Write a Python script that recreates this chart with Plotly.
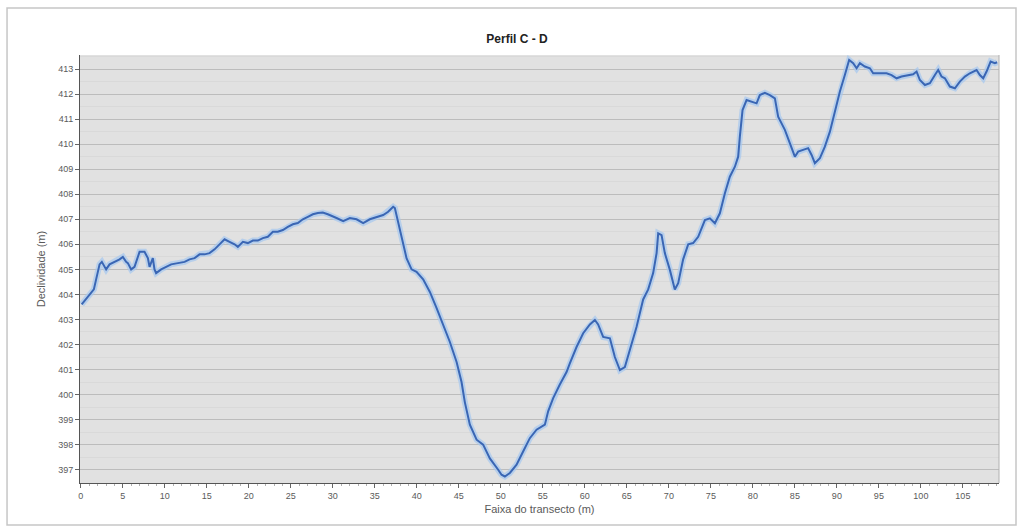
import plotly.graph_objects as go

# Transect profile C - D: distance along the transect (m) and elevation (m)
distancia = [
    0.1, 0.24, 0.63, 1.23, 1.55, 1.82, 2.23, 2.5, 3.01, 3.42, 4.01, 4.61, 5.0, 5.39, 5.6,
    5.99, 6.39, 6.79, 6.99, 7.58, 7.98, 8.18, 8.37, 8.57, 8.77, 8.96, 9.56, 10.15, 10.75,
    11.55, 12.35, 12.94, 13.54, 14.13, 14.73, 15.32, 15.92, 16.51, 17.11, 17.7, 18.3,
    18.69, 19.29, 19.88, 20.48, 21.07, 21.67, 22.26, 22.86, 23.45, 24.05, 24.64, 25.24,
    25.83, 26.43, 27.02, 27.62, 28.21, 28.81, 29.4, 30.0, 30.44, 31.23, 32.02, 32.82,
    33.61, 34.4, 35.2, 35.99, 36.58, 37.18, 37.38, 37.77, 38.18, 38.77, 39.37, 39.96,
    40.75, 41.55, 42.35, 43.13, 43.93, 44.73, 45.32, 45.71, 46.31, 47.11, 47.89, 48.69,
    49.29, 49.68, 50.08, 50.48, 51.07, 51.87, 52.65, 53.45, 54.25, 55.24, 55.63, 56.23,
    57.02, 57.82, 58.21, 59.01, 59.8, 60.6, 61.19, 61.58, 62.18, 62.98, 63.57, 64.17,
    64.76, 65.36, 66.15, 66.94, 67.54, 68.13, 68.54, 68.73, 69.13, 69.52, 70.12, 70.71,
    71.11, 71.7, 72.3, 72.89, 73.49, 74.29, 74.88, 75.48, 76.07, 76.67, 77.26, 77.86,
    78.25, 78.45, 78.77, 79.25, 79.85, 80.44, 80.83, 81.43, 82.02, 82.62, 83.01, 83.81,
    84.4, 85.0, 85.39, 85.99, 86.58, 86.99, 87.38, 87.98, 88.57, 89.17, 89.76, 90.36,
    90.95, 91.46, 91.94, 92.35, 92.74, 93.33, 93.93, 94.32, 95.12, 95.92, 96.51, 97.11,
    97.7, 98.49, 99.08, 99.49, 99.88, 100.48, 101.07, 101.67, 102.06, 102.46, 102.86,
    103.45, 104.05, 104.64, 105.24, 105.83, 106.63, 107.02, 107.42, 107.82, 108.3,
    108.81, 109.08,
]

declividade = [
    403.6, 403.66, 403.8, 404.05, 404.2, 404.6, 405.2, 405.3, 405.0, 405.2, 405.3, 405.4,
    405.5, 405.3, 405.25, 405.0, 405.1, 405.5, 405.7, 405.7, 405.45, 405.1, 405.3, 405.45,
    405.0, 404.85, 405.0, 405.1, 405.2, 405.25, 405.3, 405.4, 405.45, 405.6, 405.6,
    405.65, 405.8, 406.0, 406.2, 406.1, 406.0, 405.9, 406.1, 406.05, 406.15, 406.15,
    406.25, 406.3, 406.5, 406.5, 406.57, 406.7, 406.8, 406.85, 407.0, 407.1, 407.2,
    407.25, 407.27, 407.2, 407.1, 407.05, 406.93, 407.05, 407.0, 406.85, 407.0, 407.1,
    407.17, 407.3, 407.5, 407.45, 406.9, 406.25, 405.45, 405.0, 404.9, 404.6, 404.1,
    403.45, 402.8, 402.1, 401.3, 400.5, 399.7, 398.8, 398.2, 398.0, 397.45, 397.2, 397.0,
    396.8, 396.73, 396.87, 397.2, 397.73, 398.26, 398.6, 398.8, 399.33, 399.86, 400.4,
    400.9, 401.25, 401.9, 402.45, 402.8, 402.98, 402.8, 402.3, 402.25, 401.5, 400.98,
    401.1, 401.8, 402.7, 403.8, 404.2, 404.85, 405.65, 406.44, 406.37, 405.65, 404.98,
    404.2, 404.45, 405.4, 406.0, 406.05, 406.3, 406.97, 407.04, 406.84, 407.24, 408.04,
    408.7, 409.1, 409.5, 410.3, 411.36, 411.76, 411.7, 411.63, 411.96, 412.05, 411.96,
    411.83, 411.1, 410.57, 410.04, 409.5, 409.7, 409.77, 409.84, 409.57, 409.24, 409.44,
    409.9, 410.5, 411.3, 412.1, 412.76, 413.36, 413.23, 413.03, 413.23, 413.1, 413.03,
    412.83, 412.83, 412.83, 412.76, 412.63, 412.7, 412.76, 412.79, 412.9, 412.56, 412.36,
    412.43, 412.76, 412.96, 412.7, 412.63, 412.3, 412.23, 412.5, 412.7, 412.83, 412.96,
    412.76, 412.63, 412.9, 413.3, 413.23, 413.27,
]

x_ticks = list(range(0, 110, 5))
y_ticks = list(range(397, 414))

fig = go.Figure()

# soft light-blue glow under the profile line
fig.add_trace(go.Scatter(
    x=distancia, y=declividade, mode="lines",
    line=dict(color="rgba(165,200,240,0.7)", width=6),
    hoverinfo="skip", showlegend=False,
))
fig.add_trace(go.Scatter(
    x=distancia, y=declividade, mode="lines",
    line=dict(color="#3a66b4", width=2),
    showlegend=False,
))

grey_text = "#5a5a5a"

fig.update_layout(
    width=1021, height=532,
    margin=dict(l=80, r=22, t=55, b=49),
    paper_bgcolor="white",
    plot_bgcolor="#e1e1e1",
    font=dict(family="Liberation Sans, Arial, sans-serif", size=10, color=grey_text),
    title=dict(
        text="<b>Perfil C - D</b>",
        x=517 / 1021, xanchor="center",
        y=1 - 39 / 532, yanchor="middle",
        font=dict(size=12, color="#222222"),
    ),
    xaxis=dict(
        range=[-0.1, 109.3],
        tickmode="array", tickvals=x_ticks, ticktext=[str(v) for v in x_ticks],
        ticks="outside", ticklen=4, tickcolor="#666666",
        showgrid=False, zeroline=False,
        showline=True, linecolor="#555555", linewidth=1,
        minor=dict(dtick=1, ticks="outside", ticklen=2, tickcolor="#b0b0b0", showgrid=False),
        tickfont=dict(size=9, color=grey_text),
        title=dict(text="Faixa do transecto (m)", font=dict(size=11, color=grey_text), standoff=5),
    ),
    yaxis=dict(
        range=[396.47, 413.56],
        tickmode="array", tickvals=y_ticks, ticktext=[str(v) for v in y_ticks],
        ticks="outside", ticklen=4, tickcolor="#666666",
        showgrid=True, gridcolor="#bcbcbc", gridwidth=1,
        zeroline=False,
        showline=True, linecolor="#555555", linewidth=1,
        minor=dict(dtick=0.5, showgrid=True, gridcolor="#d9d9d9", gridwidth=1),
        tickfont=dict(size=9, color=grey_text),
        title=dict(text="Declividade (m)", font=dict(size=11, color=grey_text), standoff=10),
    ),
    shapes=[
        # outer frame around the whole chart
        dict(type="rect", xref="paper", yref="paper",
             x0=-0.0794, x1=1.0185, y0=-0.0981, y1=1.1098,
             line=dict(color="#c6c6c6", width=1.5), layer="below"),
        # thin border on the right side of the plotting area
        dict(type="line", xref="paper", yref="paper",
             x0=1, x1=1, y0=0, y1=1,
             line=dict(color="#b0b0b0", width=1)),
    ],
)

fig.write_html("out.html")
